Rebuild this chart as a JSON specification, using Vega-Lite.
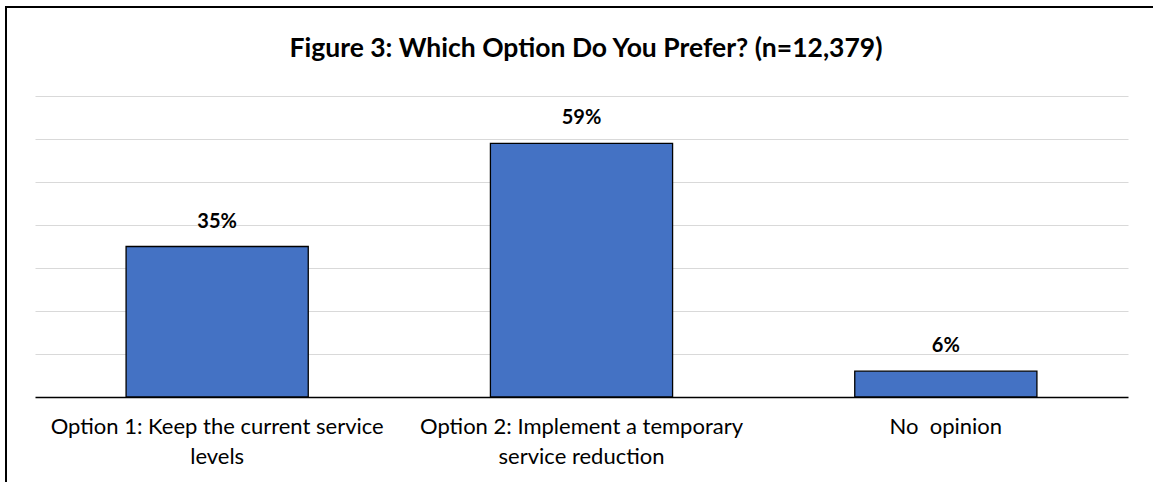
{
  "$schema": "https://vega.github.io/schema/vega-lite/v6.json",
  "width": 1160,
  "height": 483,
  "autosize": {"type": "none"},
  "padding": {"left": 6, "top": 7, "right": 0, "bottom": 0},
  "background": "white",
  "title": {
    "text": "Figure 3: Which Option Do You Prefer? (n=12,379)",
    "font": "Lato",
    "fontSize": 26.5,
    "fontWeight": "bold",
    "color": "#000000",
    "anchor": "middle",
    "frame": "group",
    "offset": -76,
    "baseline": "alphabetic"
  },
  "data": {
    "values": [
      {"option": "Option 1: Keep the current service|levels", "share": 0.35},
      {"option": "Option 2: Implement a temporary|service reduction", "share": 0.59},
      {"option": "No\u00a0 opinion", "share": 0.06}
    ]
  },
  "encoding": {
    "x": {
      "field": "option",
      "type": "nominal",
      "sort": null,
      "scale": {"range": [29, 1122], "paddingInner": 0.5, "paddingOuter": 0.25},
      "axis": {
        "title": null,
        "labelAngle": 0,
        "labelExpr": "split(datum.label, '|')",
        "labelFont": "Lato",
        "labelFontSize": 22,
        "labelColor": "#000000",
        "labelLineHeight": 30,
        "labelPadding": 19,
        "labelBaseline": "top",
        "labelLimit": 0,
        "ticks": false,
        "domainColor": "#000000",
        "domainWidth": 1.5,
        "offset": -93,
        "grid": false
      }
    },
    "y": {
      "field": "share",
      "type": "quantitative",
      "scale": {"domain": [0, 0.7], "range": [390, 89], "nice": false},
      "axis": {
        "title": null,
        "labels": false,
        "ticks": false,
        "domain": false,
        "grid": true,
        "gridColor": "#d9d9d9",
        "gridWidth": 1,
        "values": [0.1, 0.2, 0.3, 0.4, 0.5, 0.6, 0.7]
      }
    }
  },
  "layer": [
    {"mark": {"type": "bar", "fill": "#4472C4", "stroke": "#000000", "strokeWidth": 1.3}},
    {
      "mark": {"type": "text", "dy": -19, "baseline": "alphabetic", "font": "Lato", "fontSize": 20, "fontWeight": "bold", "color": "#000000"},
      "encoding": {"text": {"field": "share", "type": "quantitative", "format": ".0%"}}
    }
  ],
  "config": {"view": {"stroke": "#000000", "strokeWidth": 2, "fill": "white"}}
}
